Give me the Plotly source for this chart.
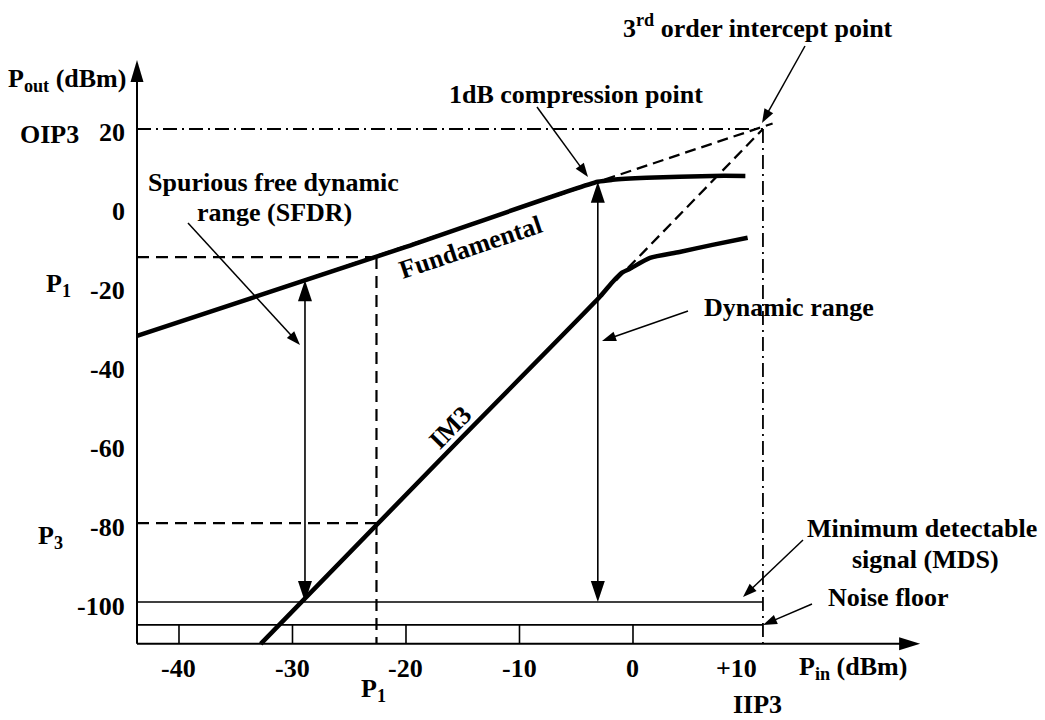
import numpy as np
import plotly.graph_objects as go

# ---------------- data ----------------
x_ticks = [-40, -30, -20, -10, 0, 10]
x_tick_labels = ["-40", "-30", "-20", "-10", "0", "+10"]
y_ticks = [20, 0, -20, -40, -60, -80, -100]
y_tick_labels = ["20", "0", "-20", "-40", "-60", "-80", "-100"]

axis_x0 = -43.7      # P_in where the P_out axis stands
axis_y0 = -110.6     # P_out where the P_in axis lies
x_axis_end = 25.3
y_axis_end = 37.5

# fundamental output (with 1 dB compression)
fund_pin = [-43.7, -20.0, -3.1, -1.8, 1.2, 7.0, 9.9]
fund_pout = [-32.5, -9.9, 6.6, 7.1, 7.6, 8.1, 8.1]
# third-order intermodulation product
im3_pin = [-32.8, -15.0, -2.9, -1.8, -1.0, -0.3, 1.5, 4.1, 7.0, 10.1]
im3_pout = [-110.6, -58.0, -22.5, -18.8, -16.5, -15.5, -12.7, -11.2, -9.4, -7.6]

# extrapolated (linear) responses
fund_ext_pin = [-43.7, 12.3]
fund_ext_pout = [-32.5, 21.4]
im3_ext_pin = [-1.5, 11.45]
im3_ext_pout = [-18.4, 20.0]

iip3 = 11.45
oip3 = 20.0
p1_in = -22.6
p1_out = -12.5
p3_out = -80.0
mds = -100.0
noise_floor = -105.8
sfdr_pin = -28.9
comp_pin, comp_pout = -3.1, 6.6

# ---------------- canvas mapping ----------------
W, H = 1045, 720
X_RANGE = [-55.77, 36.30]
Y_RANGE = [-129.92, 52.72]
KX = W / (X_RANGE[1] - X_RANGE[0])
KY = H / (Y_RANGE[1] - Y_RANGE[0])


def dx(px):
    return X_RANGE[0] + px / KX


def dy(py):
    return Y_RANGE[1] - py / KY


FONT = dict(family="Liberation Serif, Times New Roman, serif", size=26, color="black", weight="bold")

fig = go.Figure()
shapes = []


def line(xs, ys, width=1.6, dash="solid", shape="linear"):
    fig.add_trace(go.Scatter(x=xs, y=ys, mode="lines", hoverinfo="skip",
                             line=dict(color="black", width=width, dash=dash, shape=shape, smoothing=0.6)))


def arrow(tail, tip, L=14, Wd=10, width=1.5, head_at_start=False):
    """shaft + filled triangular head (head size in pixels)."""
    def head(tp, tl):
        tx, ty = tp
        sx, sy = tl
        vx = (tx - sx) * KX
        vy = -(ty - sy) * KY
        n = (vx ** 2 + vy ** 2) ** 0.5
        ux, uy = vx / n, vy / n
        bx, by = -ux * L, -uy * L
        qx, qy = -uy, ux
        pts = [(0, 0), (bx + qx * Wd / 2, by + qy * Wd / 2), (bx - qx * Wd / 2, by - qy * Wd / 2)]
        d = [(tx + ox / KX, ty - oy / KY) for ox, oy in pts]
        shapes.append(dict(type="path", xref="x", yref="y", layer="above",
                           path="M " + " L ".join(f"{a:.4f},{b:.4f}" for a, b in d) + " Z",
                           fillcolor="black", line=dict(width=0)))
        return (tx + bx * 0.7 / KX, ty - by * 0.7 / KY)

    end = head(tip, tail)
    start = tail
    if head_at_start:
        start = head(tail, tip)
    line([start[0], end[0]], [start[1], end[1]], width=width)


DASH = "12px,7px"
DASH_EXT = "11px,6px"
DASHDOT = "14px,5px,2px,5px"

# reference lines
line([axis_x0, iip3], [oip3, oip3], width=1.8, dash=DASHDOT)
line([iip3, iip3], [oip3, axis_y0], width=1.8, dash=DASHDOT)
line([axis_x0, p1_in], [p1_out, p1_out], width=2.2, dash=DASH)
line([axis_x0, p1_in], [p3_out, p3_out], width=2.2, dash=DASH)
line([p1_in, p1_in], [p1_out, axis_y0], width=2.2, dash=DASH)
line([axis_x0, iip3], [mds, mds], width=1.6)
line([axis_x0, iip3], [noise_floor, noise_floor], width=1.6)

# small tick boxes between noise floor and axis
tx_, ty_ = [], []
for t in x_ticks[:-1]:
    tx_ += [t, t, None]
    ty_ += [noise_floor, axis_y0, None]
line(tx_, ty_, width=1.6)

# extrapolations
line(fund_ext_pin, fund_ext_pout, width=2.3, dash=DASH_EXT)
line(im3_ext_pin, im3_ext_pout, width=2.3, dash=DASH_EXT)

# responses
line(fund_pin, fund_pout, width=4.5, shape="spline")
line(im3_pin, im3_pout, width=4.5, shape="spline")

# axes with arrows
arrow((axis_x0, axis_y0), (x_axis_end, axis_y0), L=21, Wd=13, width=2)
arrow((axis_x0, axis_y0), (axis_x0, y_axis_end), L=22, Wd=13, width=2)

# double-headed range arrows
sfdr_top = float(np.interp(sfdr_pin, fund_pin, fund_pout))
arrow((sfdr_pin, mds), (sfdr_pin, sfdr_top), L=21, Wd=14, width=1.6, head_at_start=True)
arrow((comp_pin, mds), (comp_pin, comp_pout), L=21, Wd=14, width=1.6, head_at_start=True)

# label pointers (pixel anchors of the callouts)
arrow((dx(188), dy(223)), (dx(300), dy(345)))
arrow((dx(537), dy(107)), (dx(588), dy(177)))
arrow((dx(805), dy(46)), (dx(762), dy(123)))
arrow((dx(688), dy(311)), (dx(602), dy(341)))
arrow((dx(803), dy(540)), (dx(743), dy(597)))
arrow((dx(812), dy(604)), (dx(763), dy(625)))

# ---------------- text ----------------
ann = []
for v, s in zip(y_ticks, y_tick_labels):
    ann.append(dict(x=dx(127), y=v, xref="x", yref="y", text=s, xanchor="right",
                    yanchor="middle", yshift=-4, showarrow=False, font=FONT))
for v, s in zip(x_ticks, x_tick_labels):
    ann.append(dict(x=v, y=dy(668), xref="x", yref="y", text=s, xanchor="center",
                    yanchor="middle", xshift=(-9.5 if v == 10 else 0), showarrow=False, font=FONT))


def txt(s, px, py, xa="center", angle=0):
    ann.append(dict(x=px / W, y=1 - py / H, xref="paper", yref="paper", text=s, xanchor=xa,
                    yanchor="middle", showarrow=False, font=FONT, textangle=angle))


txt("P<sub>out</sub> (dBm)", 128, 80, xa="right")
txt("OIP3", 49, 134)
txt("P<sub>1</sub>", 44, 285, xa="left")
txt("P<sub>3</sub>", 36, 537, xa="left")
txt("P<sub>1</sub>", 359, 690, xa="left")
txt("IIP3", 757, 704)
txt("P<sub>in</sub> (dBm)", 797, 668, xa="left")
txt("3<sup>rd</sup> order intercept point", 621, 27, xa="left")
txt("1dB compression point", 576, 95)
txt("Spurious free dynamic", 273, 182)
txt("range (SFDR)", 274, 212)
txt("Fundamental", 470, 247, angle=-18.5)
txt("IM3", 450, 427, angle=-45.6)
txt("Dynamic range", 702, 307, xa="left")
txt("Minimum detectable", 922, 528)
txt("signal (MDS)", 925, 559)
txt("Noise floor", 888, 597)

fig.update_layout(
    width=W, height=H, margin=dict(l=0, r=0, t=0, b=0),
    paper_bgcolor="white", plot_bgcolor="white", showlegend=False, hovermode=False,
    xaxis=dict(range=X_RANGE, visible=False, fixedrange=True),
    yaxis=dict(range=Y_RANGE, visible=False, fixedrange=True),
    shapes=shapes, annotations=ann,
)
fig.write_html("out.html")
